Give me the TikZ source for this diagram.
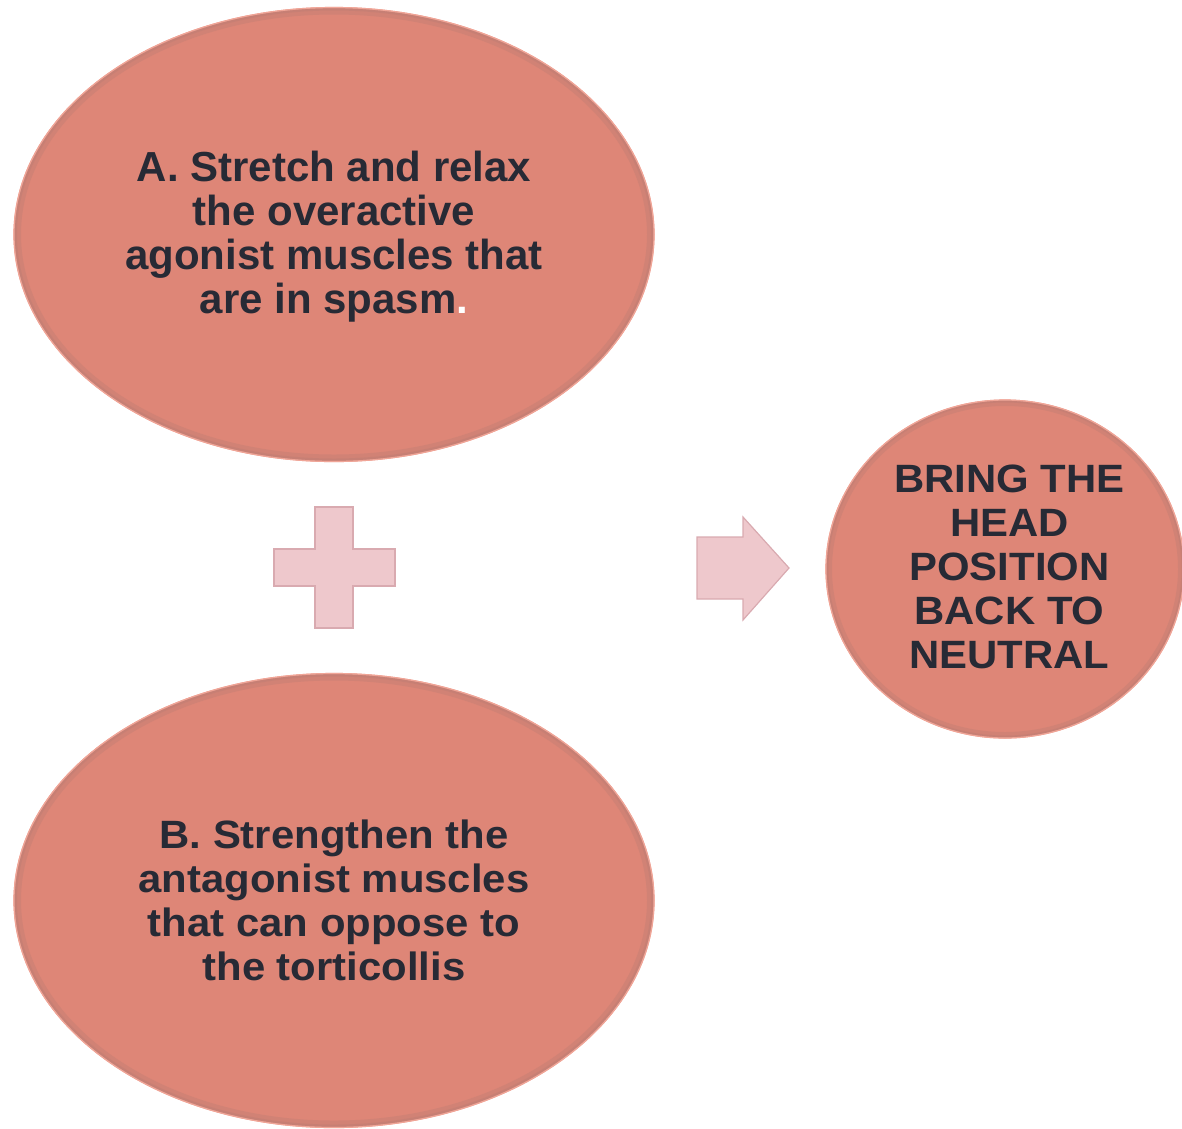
\documentclass[tikz,border=0pt]{standalone}
\usepackage{fontspec}
\setmainfont{Liberation Sans}
\newfontfamily\fa{Liberation Sans}
\newfontfamily\fb{Liberation Sans}[FakeStretch=1.06]
\usetikzlibrary{shapes.geometric}
\definecolor{salmon}{HTML}{DE8677}
\definecolor{rimlight}{HTML}{F0A597}
\definecolor{rimdark}{HTML}{B07A72}
\definecolor{pinkfill}{HTML}{EEC8CC}
\definecolor{pinkedge}{HTML}{D9AAB0}
\definecolor{txtcol}{HTML}{272A35}
\tikzset{
  blob/.style={ellipse, fill=salmon, draw=rimlight, line width=1.2pt, inner sep=0pt},
  bevel/.style={draw=rimdark, opacity=0.28},
  txta/.style={align=center, text=txtcol, font=\fa\bfseries\fontsize{42}{44}\selectfont, inner sep=0pt},
  txtb/.style={align=center, text=txtcol, font=\fb\bfseries\fontsize{39.5}{44}\selectfont, inner sep=0pt},
  sign/.style={fill=pinkfill, draw=pinkedge, line width=1.2pt, line join=miter}
}
\begin{document}
\begin{tikzpicture}[x=1pt,y=-1pt]
\useasboundingbox (0,0) rectangle (1182,1128);
% ellipses
\node[blob, minimum width=640pt, minimum height=454pt] (A) at (334,234.5) {};
\node[blob, minimum width=640pt, minimum height=454pt] (B) at (334,900.5) {};
\node[blob, minimum width=358pt, minimum height=338pt] (C) at (1005,569) {};
% bevel shading inside the rims
\begin{scope}
  \clip (A.center) ellipse [x radius=320, y radius=227];
  \draw[bevel, line width=14pt] (A.center) ellipse [x radius=320, y radius=227];
  \draw[bevel, line width=6pt] (A.center) ellipse [x radius=320, y radius=227];
\end{scope}
\begin{scope}
  \clip (B.center) ellipse [x radius=320, y radius=227];
  \draw[bevel, line width=14pt] (B.center) ellipse [x radius=320, y radius=227];
  \draw[bevel, line width=6pt] (B.center) ellipse [x radius=320, y radius=227];
\end{scope}
\begin{scope}
  \clip (C.center) ellipse [x radius=179, y radius=169];
  \draw[bevel, line width=12pt] (C.center) ellipse [x radius=179, y radius=169];
  \draw[bevel, line width=5pt] (C.center) ellipse [x radius=179, y radius=169];
\end{scope}
\draw[rimlight, line width=1.2pt] (A.center) ellipse [x radius=320, y radius=227];
\draw[rimlight, line width=1.2pt] (B.center) ellipse [x radius=320, y radius=227];
\draw[rimlight, line width=1.2pt] (C.center) ellipse [x radius=179, y radius=169];
% texts
\node[txta] (ta) at (334,237) {A. Stretch and relax\\the overactive\\agonist muscles that\\are in spasm\textcolor{white}{.}};
\node[txtb] (tb) at (334,900) {B. Strengthen the\\antagonist muscles\\that can oppose to\\the torticollis};
\node[txtb] (tc) at (1009.5,566.5) {BRING THE\\HEAD\\POSITION\\BACK TO\\NEUTRAL};
% plus sign
\draw[sign] (315,507) -- (353,507) -- (353,549) -- (395,549) -- (395,586) -- (353,586)
  -- (353,628) -- (315,628) -- (315,586) -- (274,586) -- (274,549) -- (315,549) -- cycle;
% arrow
\draw[sign] (697,537) -- (743,537) -- (743,517) -- (789,568) -- (743,620) -- (743,599)
  -- (697,599) -- cycle;
\end{tikzpicture}
\end{document}
